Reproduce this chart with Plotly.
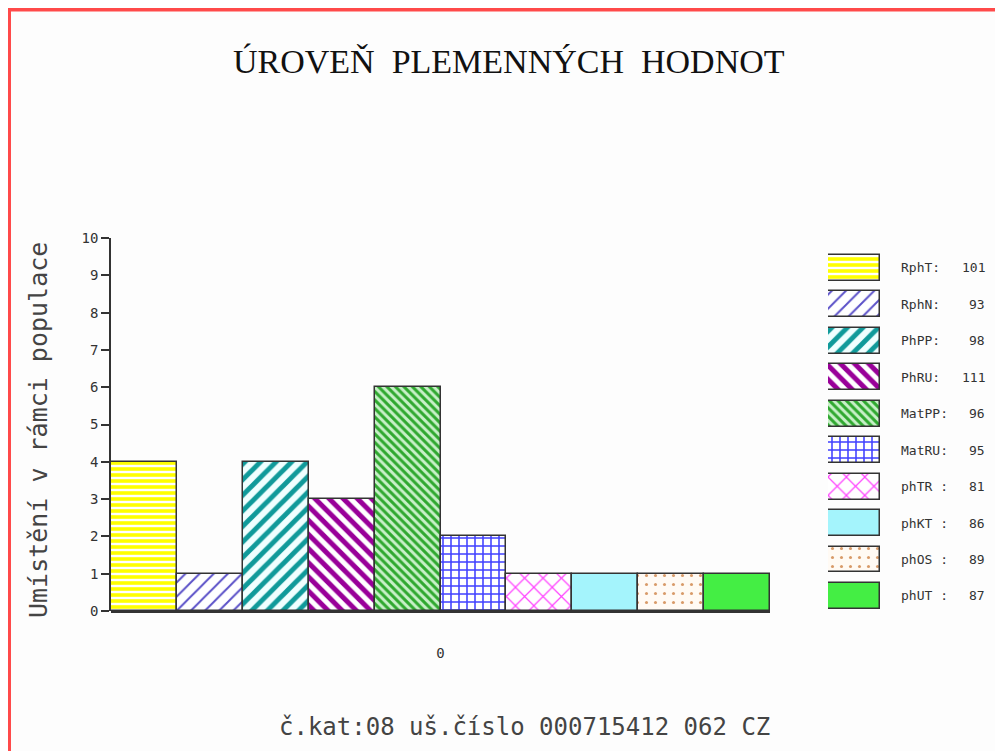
import plotly.graph_objects as go

# ---------------- data ----------------
categories = ["0"]
series_names = ["RphT", "RphN", "PhPP", "PhRU", "MatPP", "MatRU", "phTR", "phKT", "phOS", "phUT"]
series_values = [4, 1, 4, 3, 6, 2, 1, 1, 1, 1]
legend_labels = ["RphT:", "RphN:", "PhPP:", "PhRU:", "MatPP:", "MatRU:", "phTR :", "phKT :", "phOS :", "phUT :"]
legend_values = [101, 93, 98, 111, 96, 95, 81, 86, 89, 87]
y_ticks = [0, 1, 2, 3, 4, 5, 6, 7, 8, 9, 10]

# ---------------- styles ----------------
patterns = [
    dict(shape="-", fgcolor="#ffff00", bgcolor="#ffffff", size=6, solidity=0.6, fgopacity=1),
    dict(shape="/", fgcolor="#5a50c8", bgcolor="#ffffff", size=10, solidity=0.2, fgopacity=1),
    dict(shape="/", fgcolor="#109a9a", bgcolor="#f0ffff", size=11, solidity=0.45, fgopacity=1),
    dict(shape="\\", fgcolor="#990099", bgcolor="#ffffff", size=10, solidity=0.5, fgopacity=1),
    dict(shape="\\", fgcolor="#2fa82f", bgcolor="#c8f0c8", size=6, solidity=0.5, fgopacity=1),
    dict(shape="+", fgcolor="#4040ff", bgcolor="#ffffff", size=8, solidity=0.35, fgopacity=1),
    dict(shape="x", fgcolor="#ff44ff", bgcolor="#ffffff", size=13, solidity=0.18, fgopacity=1),
    dict(shape="", fgcolor="#a4f4fc", bgcolor="#a4f4fc", size=6, solidity=0.2),
    dict(shape=".", fgcolor="#d89a68", bgcolor="#fffaf4", size=9, solidity=0.09, fgopacity=1),
    dict(shape="", fgcolor="#44ee44", bgcolor="#44ee44", size=6, solidity=0.2),
]
solid_colors = ["#ffffff", "#ffffff", "#f0ffff", "#ffffff", "#c8f0c8", "#ffffff", "#ffffff", "#a4f4fc", "#fffaf4", "#44ee44"]

OFF = 8  # page body margin
W, H = 1003 - OFF, 751 - OFF
ML, MR, MT, MB = 110 - OFF, 10, 238 - OFF, 140
PW = W - ML - MR
PH = H - MT - MB


def px_x(px):
    return (px - OFF - ML) / PW


def px_y(py):
    return (H - MB - (py - OFF)) / PH


fig = go.Figure()

# main bars
for i, name in enumerate(series_names):
    fig.add_trace(go.Bar(
        x=categories, y=[series_values[i]], name=name,
        marker=dict(color=solid_colors[i], pattern=patterns[i],
                    line=dict(color="#333333", width=1.5)),
        xaxis="x", yaxis="y", showlegend=False,
    ))

# legend swatches drawn as horizontal bars on their own axes
for i, name in enumerate(series_names):
    fig.add_trace(go.Bar(
        x=[1], y=[name], orientation="h",
        marker=dict(color=solid_colors[i], pattern=patterns[i],
                    line=dict(color="#333333", width=1.5)),
        width=0.71, xaxis="x2", yaxis="y2", showlegend=False,
    ))

mono = "DejaVu Sans Mono"
annotations = []
for i, name in enumerate(series_names):
    annotations.append(dict(
        xref="paper", yref="y2", x=px_x(899), y=name, text=legend_labels[i],
        xanchor="left", yanchor="middle", showarrow=False,
        font=dict(family=mono, size=13, color="#333333")))
    annotations.append(dict(
        xref="paper", yref="y2", x=px_x(987), y=name, text=str(legend_values[i]),
        xanchor="right", yanchor="middle", showarrow=False,
        font=dict(family=mono, size=13, color="#333333")))

annotations.append(dict(
    xref="paper", yref="paper", x=px_x(38), y=px_y(430),
    text="Umístění v rámci populace", textangle=-90, showarrow=False,
    xanchor="center", yanchor="middle",
    font=dict(family=mono, size=25, color="#444444")))
annotations.append(dict(
    xref="paper", yref="paper", x=px_x(524), y=px_y(727),
    text="č.kat:08 uš.číslo 000715412 062 CZ", showarrow=False,
    xanchor="center", yanchor="middle",
    font=dict(family=mono, size=24, color="#444444")))
annotations.append(dict(
    xref="paper", yref="paper", x=px_x(509), y=px_y(62),
    text="ÚROVEŇ  PLEMENNÝCH  HODNOT", showarrow=False,
    xanchor="center", yanchor="middle",
    font=dict(family="Liberation Serif", size=34, color="#111111")))

# red frame (top and left edges)
shapes = [
    dict(type="line", xref="paper", yref="paper",
         x0=px_x(8), x1=px_x(1003), y0=px_y(9.5), y1=px_y(9.5),
         line=dict(color="#ff4a4a", width=4)),
    dict(type="line", xref="paper", yref="paper",
         x0=px_x(8), x1=px_x(8), y0=px_y(9.5), y1=px_y(751),
         line=dict(color="#ff4a4a", width=6)),
]

fig.update_layout(
    width=W, height=H,
    margin=dict(l=ML, r=MR, t=MT, b=MB),
    paper_bgcolor="#fdfdfd", plot_bgcolor="rgba(0,0,0,0)",
    barmode="group", bargap=0, bargroupgap=0,
    showlegend=False,
    annotations=annotations, shapes=shapes,
    xaxis=dict(domain=[px_x(111), px_x(770)], range=[-0.5, 0.5], type="category",
               showline=True, linecolor="#333333", linewidth=2,
               showgrid=False, zeroline=False, ticks="",
               ticklabelstandoff=28,
               tickfont=dict(family=mono, size=14, color="#333333")),
    yaxis=dict(domain=[0, 1], range=[0, 10], tickvals=y_ticks,
               showline=True, linecolor="#333333", linewidth=1.5,
               ticks="outside", ticklen=8, tickwidth=1.5, tickcolor="#333333",
               showgrid=False, zeroline=False, anchor="free", position=0,
               tickfont=dict(family=mono, size=14, color="#333333")),
    xaxis2=dict(domain=[px_x(828), px_x(880)], range=[0, 1], anchor="y2",
                visible=False),
    yaxis2=dict(domain=[0, 1], anchor="x2", type="category",
                categoryarray=series_names, categoryorder="array",
                range=[9.413, -0.823], visible=False),
)

fig.write_html("out.html")
